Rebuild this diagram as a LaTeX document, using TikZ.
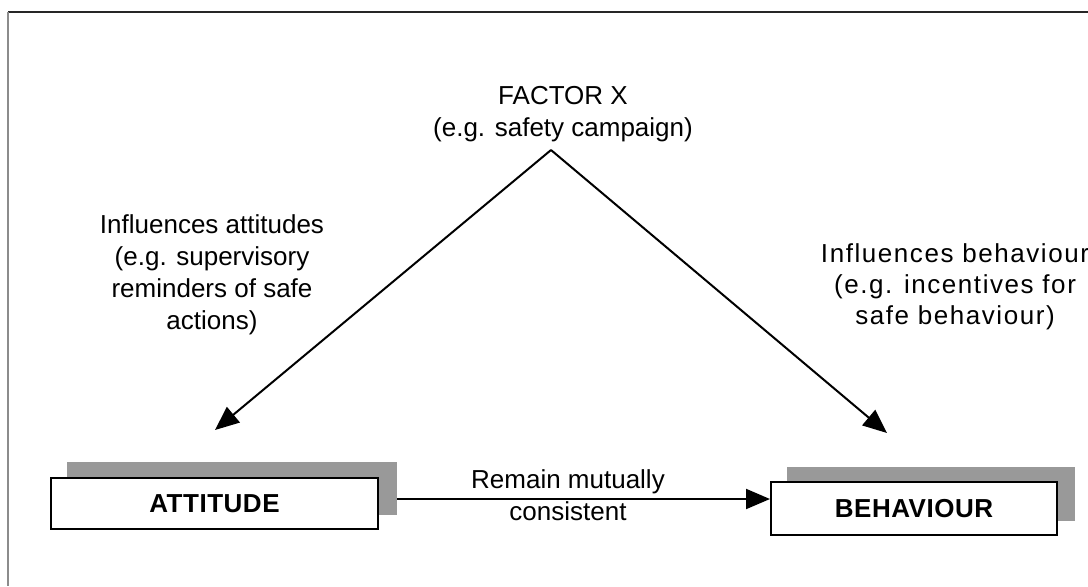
\documentclass[tikz,border=0pt]{standalone}
\usepackage{fontspec}
\setmainfont{Liberation Sans}
\usetikzlibrary{arrows.meta}
\begin{document}
\begin{tikzpicture}[x=0.5pt,y=-0.5pt,
  txt/.style={font=\fontsize{13pt}{16pt}\selectfont, align=center, inner sep=0pt},
  sidetxtw/.style={font=\fontsize{13pt}{15.5pt}\selectfont\addfontfeature{LetterSpace=6}, align=center, inner sep=0pt},
  boxlbl/.style={font=\fontsize{13pt}{15.5pt}\selectfont\bfseries\addfontfeature{LetterSpace=2}, draw=black, line width=1pt, fill=white, inner sep=0pt},
  shadowbox/.style={fill=black!40, draw=none, inner sep=0pt},
  conn/.style={line width=1pt, -{Triangle[length=12pt,width=10pt]}},
  frame/.style={line width=1pt}
]
\useasboundingbox (0,0) rectangle (1088,586);
% outer frame (top and left edges only)
\coordinate (ftl) at (8,12);
\coordinate (ftr) at (1088,12);
\coordinate (fbl) at (8,586);
\draw[frame, black!85] (ftr) -- (ftl);
\draw[frame, black!45] (ftl) -- (fbl);

% title
\node[txt] (factor) at (563,114) {FACTOR X\\(e.g. safety campaign)};

% side labels
\node[txt] (infatt) at (212,275) {Influences attitudes\\(e.g. supervisory\\reminders of safe\\actions)};
\node[sidetxtw] (infbeh) at (955,287) {Influences behaviour\\(e.g. incentives for\\safe behaviour)};

% boxes with shadows
\node[shadowbox, minimum width=330pt*0.5, minimum height=53pt*0.5] (attsh) at (232,488.5) {};
\node[boxlbl, minimum width=327pt*0.5, minimum height=51pt*0.5] (att) at (214.5,503.5) {ATTITUDE};
\node[shadowbox, minimum width=288pt*0.5, minimum height=54pt*0.5] (behsh) at (931,494) {};
\node[boxlbl, minimum width=286pt*0.5, minimum height=53pt*0.5] (beh) at (914,508.5) {BEHAVIOUR};

% middle label
\node[txt] (remain) at (568,495) {Remain mutually\\consistent};

% connectors
\coordinate (apex) at (551,150);
\coordinate (ltip) at (215,430);
\coordinate (rtip) at (887,433);
\coordinate (mid) at (0,499);
\draw[conn] (apex) -- (ltip);
\draw[conn] (apex) -- (rtip);
\draw[conn] (attsh.east |- mid) -- (beh.west |- mid);
\end{tikzpicture}
\end{document}
